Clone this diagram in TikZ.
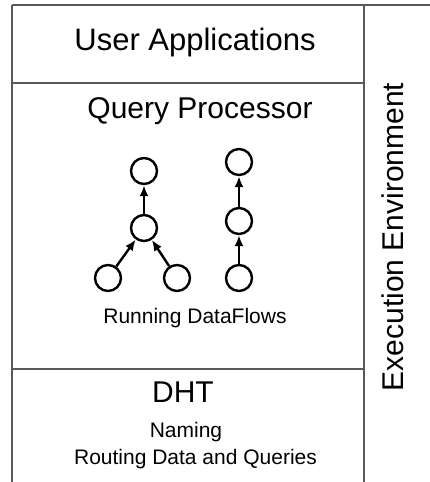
\documentclass[tikz,border=0pt]{standalone}
\usepackage{fontspec}
\setmainfont{Liberation Sans}
\usetikzlibrary{arrows.meta}
\begin{document}
\begin{tikzpicture}[x=1pt,y=-1pt,
  frame/.style={draw=black!65,line width=1.1pt},
  bigtxt/.style={anchor=base,inner sep=0pt,font=\fontsize{30}{34}\selectfont},
  smalltxt/.style={anchor=base,inner sep=0pt,font=\fontsize{21}{25}\selectfont},
  flownode/.style={circle,draw=black,line width=2.4pt,minimum size=26pt,inner sep=0pt},
  flowedge/.style={-{Latex[length=11pt,width=9pt]},line width=2.4pt}]
\useasboundingbox (0,0) rectangle (430,482);
% frame
\coordinate (tl) at (12,5);
\coordinate (tr) at (430,5);
\coordinate (bl) at (12,482);
\coordinate (vt) at (364,5);
\coordinate (vb) at (364,482);
\coordinate (h1l) at (12,83);
\coordinate (h1r) at (364,83);
\coordinate (h2l) at (12,369);
\coordinate (h2r) at (364,369);
\draw[frame] (tl) -- (tr);
\draw[frame] (tl) -- (bl);
\draw[frame] (vt) -- (vb);
\draw[frame] (h1l) -- (h1r);
\draw[frame] (h2l) -- (h2r);
% texts
\node[bigtxt,font=\fontsize{31}{35}\selectfont] (ua) at (195,50) {User Applications};
\node[bigtxt] (qp) at (200,118) {Query Processor};
\node[smalltxt] (rd) at (195,323) {Running DataFlows};
\node[bigtxt] (dht) at (183,402) {DHT};
\node[smalltxt] (nm) at (186,437) {Naming};
\node[smalltxt] (rq) at (195.5,464) {Routing Data and Queries};
\node[bigtxt,rotate=90] (ee) at (403,237) {Execution Environment};
% left dataflow
\node[flownode] (a1) at (144,171) {};
\node[flownode] (a2) at (144,228) {};
\node[flownode] (a3) at (108,278) {};
\node[flownode] (a4) at (177,278) {};
\draw[flowedge] (a2) -- (a1);
\draw[flowedge] (a3) -- (a2);
\draw[flowedge] (a4) -- (a2);
% right dataflow
\node[flownode] (b1) at (239,162) {};
\node[flownode] (b2) at (239,221) {};
\node[flownode] (b3) at (239,278) {};
\draw[flowedge] (b2) -- (b1);
\draw[flowedge] (b3) -- (b2);
\end{tikzpicture}
\end{document}
